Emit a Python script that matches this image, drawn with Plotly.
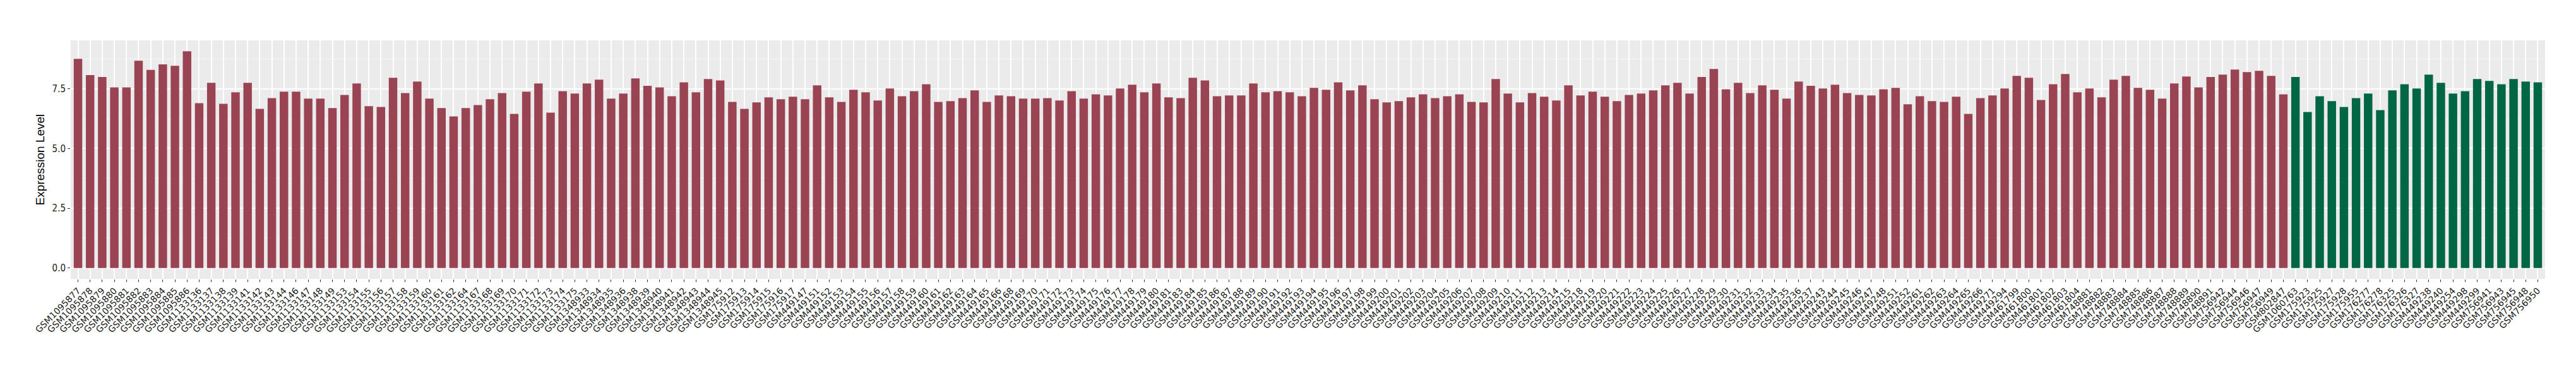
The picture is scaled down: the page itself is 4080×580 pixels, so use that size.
import plotly.graph_objects as go

tumor_samples = [
    "GSM1095877", "GSM1095878", "GSM1095879", "GSM1095880", "GSM1095881",
    "GSM1095882", "GSM1095883", "GSM1095884", "GSM1095885", "GSM1095886",
    "GSM1133136", "GSM1133137", "GSM1133138", "GSM1133139", "GSM1133141",
    "GSM1133142", "GSM1133143", "GSM1133144", "GSM1133146", "GSM1133147",
    "GSM1133148", "GSM1133149", "GSM1133153", "GSM1133154", "GSM1133155",
    "GSM1133156", "GSM1133157", "GSM1133158", "GSM1133159", "GSM1133160",
    "GSM1133161", "GSM1133162", "GSM1133164", "GSM1133167", "GSM1133168",
    "GSM1133169", "GSM1133170", "GSM1133171", "GSM1133172", "GSM1133173",
    "GSM1133174", "GSM1133175", "GSM1348933", "GSM1348934", "GSM1348935",
    "GSM1348936", "GSM1348938", "GSM1348939", "GSM1348940", "GSM1348941",
    "GSM1348942", "GSM1348943", "GSM1348944", "GSM1348945", "GSM175912",
    "GSM175913", "GSM175914", "GSM175915", "GSM175916", "GSM175917",
    "GSM449147", "GSM449151", "GSM449152", "GSM449153", "GSM449154",
    "GSM449155", "GSM449156", "GSM449157", "GSM449158", "GSM449159",
    "GSM449160", "GSM449161", "GSM449162", "GSM449163", "GSM449164",
    "GSM449165", "GSM449166", "GSM449168", "GSM449169", "GSM449170",
    "GSM449171", "GSM449172", "GSM449173", "GSM449174", "GSM449175",
    "GSM449176", "GSM449177", "GSM449178", "GSM449179", "GSM449180",
    "GSM449181", "GSM449183", "GSM449184", "GSM449185", "GSM449186",
    "GSM449187", "GSM449188", "GSM449189", "GSM449190", "GSM449191",
    "GSM449192", "GSM449193", "GSM449194", "GSM449195", "GSM449196",
    "GSM449197", "GSM449198", "GSM449199", "GSM449200", "GSM449201",
    "GSM449202", "GSM449203", "GSM449204", "GSM449205", "GSM449206",
    "GSM449207", "GSM449208", "GSM449209", "GSM449210", "GSM449211",
    "GSM449212", "GSM449213", "GSM449214", "GSM449215", "GSM449218",
    "GSM449219", "GSM449220", "GSM449221", "GSM449222", "GSM449223",
    "GSM449224", "GSM449225", "GSM449226", "GSM449227", "GSM449228",
    "GSM449229", "GSM449230", "GSM449231", "GSM449232", "GSM449233",
    "GSM449234", "GSM449235", "GSM449236", "GSM449237", "GSM449243",
    "GSM449244", "GSM449245", "GSM449246", "GSM449247", "GSM449248",
    "GSM449251", "GSM449252", "GSM449261", "GSM449262", "GSM449263",
    "GSM449264", "GSM449265", "GSM449266", "GSM449271", "GSM449294",
    "GSM461799", "GSM461800", "GSM461801", "GSM461802", "GSM461803",
    "GSM461804", "GSM748881", "GSM748882", "GSM748883", "GSM748884",
    "GSM748885", "GSM748886", "GSM748887", "GSM748888", "GSM748889",
    "GSM748890", "GSM748891", "GSM756942", "GSM756944", "GSM756946",
    "GSM756947", "GSM756949", "GSM802847",
]

tumor_values = [
    8.75, 8.07, 7.99, 7.56, 7.56, 8.67, 8.29, 8.52, 8.46, 9.07,
    6.90, 7.75, 6.87, 7.35, 7.75, 6.66, 7.11, 7.38, 7.38, 7.09,
    7.09, 6.69, 7.24, 7.72, 6.77, 6.74, 7.96, 7.32, 7.80, 7.09,
    6.69, 6.34, 6.69, 6.82, 7.06, 7.32, 6.45, 7.38, 7.72, 6.50,
    7.40, 7.30, 7.72, 7.88, 7.09, 7.30, 7.93, 7.62, 7.56, 7.19,
    7.77, 7.35, 7.91, 7.85, 6.95, 6.66, 6.93, 7.14, 7.06, 7.17,
    7.06, 7.64, 7.14, 6.95, 7.46, 7.35, 7.01, 7.51, 7.19, 7.40,
    7.69, 6.95, 6.98, 7.11, 7.43, 6.95, 7.22, 7.19, 7.09, 7.09,
    7.11, 7.01, 7.40, 7.09, 7.27, 7.22, 7.51, 7.67, 7.35, 7.72,
    7.14, 7.11, 7.96, 7.85, 7.19, 7.22, 7.22, 7.72, 7.35, 7.40,
    7.35, 7.19, 7.54, 7.46, 7.77, 7.43, 7.64, 7.06, 6.93, 6.98,
    7.14, 7.27, 7.11, 7.19, 7.27, 6.95, 6.93, 7.91, 7.30, 6.93,
    7.32, 7.17, 7.01, 7.64, 7.22, 7.38, 7.17, 6.98, 7.24, 7.30,
    7.43, 7.64, 7.75, 7.30, 7.99, 8.33, 7.48, 7.75, 7.32, 7.64,
    7.46, 7.09, 7.80, 7.62, 7.51, 7.67, 7.32, 7.24, 7.22, 7.48,
    7.54, 6.85, 7.19, 6.98, 6.95, 7.17, 6.45, 7.11, 7.22, 7.51,
    8.04, 7.96, 7.03, 7.69, 8.12, 7.35, 7.51, 7.14, 7.88, 8.04,
    7.54, 7.46, 7.09, 7.72, 8.01, 7.56, 7.99, 8.09, 8.30, 8.20,
    8.25, 8.04, 7.27,
]

normal_samples = [
    "GSM1060763", "GSM175923", "GSM175925", "GSM175927", "GSM175928",
    "GSM175955", "GSM176277", "GSM176278", "GSM176325", "GSM176326",
    "GSM176327", "GSM449238", "GSM449240", "GSM449254", "GSM449298",
    "GSM449299", "GSM756941", "GSM756943", "GSM756945", "GSM756948",
    "GSM756950",
]

normal_values = [
    7.99, 6.53, 7.19, 6.98, 6.74, 7.11, 7.30, 6.61, 7.43, 7.69,
    7.51, 8.09, 7.75, 7.30, 7.40, 7.91, 7.83, 7.69, 7.91, 7.80,
    7.77,
]

y_ticks = [0, 2.5, 5, 7.5]
y_tick_labels = ["0.0", "2.5", "5.0", "7.5"]

fig = go.Figure()

fig.add_trace(
    go.Bar(
        x=tumor_samples,
        y=tumor_values,
        width=0.7,
        marker=dict(color="#9A4352", line=dict(width=0)),
        name="Tumor"
    )
)

fig.add_trace(
    go.Bar(
        x=normal_samples,
        y=normal_values,
        width=0.7,
        marker=dict(color="#006644", line=dict(width=0)),
        name="Normal"
    )
)

n = len(tumor_samples) + len(normal_samples)
ymax = max(tumor_values + normal_values)

fig.update_layout(
    width=4080,
    height=580,
    autosize=False,
    barmode="overlay",
    showlegend=False,
    paper_bgcolor="white",
    plot_bgcolor="#EBEBEB",
    margin=dict(l=104, r=57, t=56, b=146),
    font=dict(family="Liberation Sans, Arial, sans-serif", color="#000000"),
    xaxis=dict(
        type="category",
        categoryorder="array",
        categoryarray=tumor_samples + normal_samples,
        range=[-0.6, n - 0.4],
        tickangle=-45,
        tickfont=dict(family="DejaVu Sans", size=14, color="#1A1A1A"),
        ticks="outside",
        ticklen=4,
        tickwidth=1,
        tickcolor="#333333",
        showgrid=True,
        gridcolor="white",
        gridwidth=1.6,
        zeroline=False,
        showline=False,
        automargin=False
    ),
    yaxis=dict(
        title=dict(
            text="Expression Level",
            font=dict(family="Liberation Sans, Arial, sans-serif", size=19, color="#000000"),
            standoff=6
        ),
        range=[-0.05 * ymax, ymax * 1.05],
        tickvals=y_ticks,
        ticktext=y_tick_labels,
        tickfont=dict(family="Liberation Sans Narrow, DejaVu Sans Condensed, sans-serif", size=15, color="#1A1A1A"),
        ticks="outside",
        ticklen=4,
        tickwidth=1,
        tickcolor="#333333",
        showgrid=True,
        gridcolor="white",
        gridwidth=1.6,
        minor=dict(dtick=1.25, tick0=0, showgrid=True, gridcolor="#F5F5F5", gridwidth=0.8, ticks=""),
        zeroline=False,
        showline=False,
        automargin=False
    )
)

fig.write_html("out.html")
